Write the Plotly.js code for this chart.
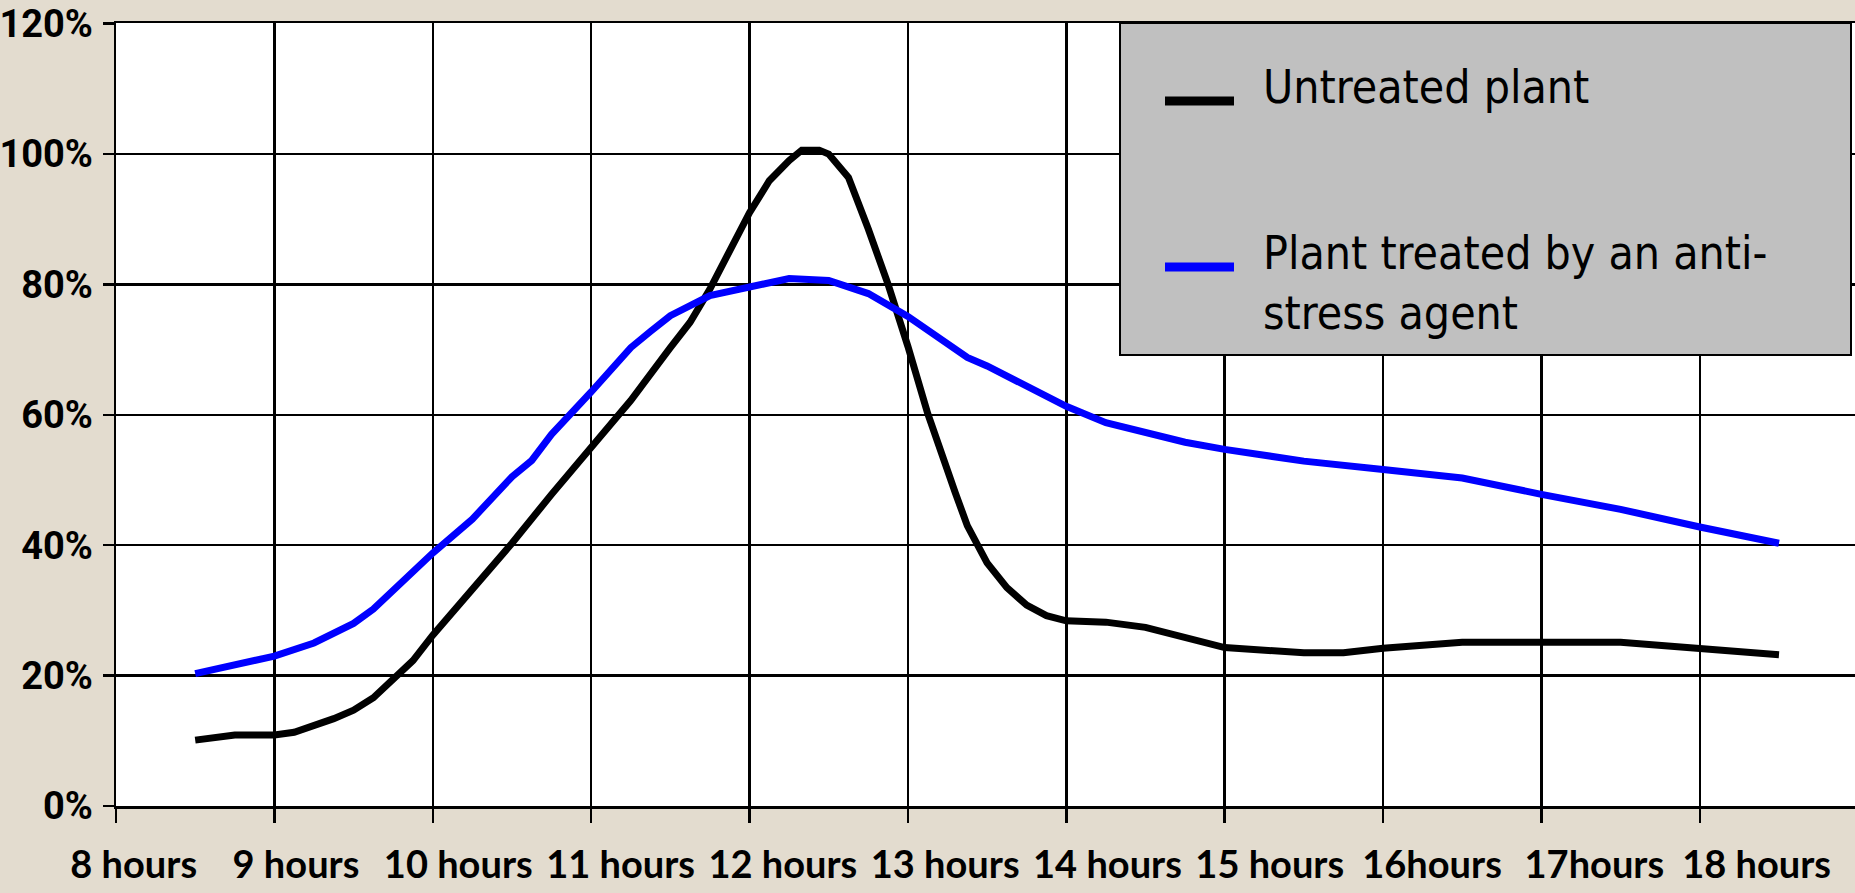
<!DOCTYPE html>
<html>
<head>
<meta charset="utf-8">
<script src="https://cdn.plot.ly/plotly-3.0.1.min.js"></script>
<style>
  html, body { margin: 0; padding: 0; background: #e3dccf; }
  #plot { width: 1855px; height: 893px; }
</style>
</head>
<body>
<div id="plot"></div>
<script>
// readings taken off the chart, time in hours, values in %
const untreatedTime = [8.5, 8.75, 9.0, 9.125, 9.375, 9.5, 9.625, 9.875, 10.0, 10.25, 10.5, 10.75,
  11.0, 11.25, 11.5, 11.625, 11.75, 11.875, 12.0, 12.125, 12.25, 12.33, 12.44, 12.5, 12.625,
  12.75, 12.875, 13.0, 13.125, 13.3, 13.375, 13.5, 13.625, 13.75, 13.875, 14.0, 14.125, 14.25,
  14.5, 15.0, 15.5, 15.75, 16.0, 16.5, 17.5, 18.0, 18.5];
const untreatedValue = [10.1, 10.9, 10.9, 11.3, 13.4, 14.7, 16.6, 22.3, 26.2, 33.1, 40.3, 47.8,
  55.0, 62.2, 70.3, 74.2, 79.3, 85.2, 91.0, 95.9, 99.0, 100.6, 100.6, 100.0, 96.4,
  88.5, 80.0, 70.5, 60.2, 48.0, 43.0, 37.3, 33.5, 30.8, 29.2, 28.4, 28.2, 28.2,
  27.4, 24.3, 23.5, 23.5, 24.2, 25.1, 25.1, 24.1, 23.2];

const treatedTime = [8.5, 9.0, 9.25, 9.5, 9.625, 9.75, 10.0, 10.25, 10.5, 10.625, 10.75, 11.0,
  11.25, 11.375, 11.5, 11.75, 12.0, 12.25, 12.5, 12.75, 13.0, 13.375, 13.5, 14.0, 14.25, 14.5,
  14.75, 15.0, 15.5, 16.0, 16.5, 17.0, 17.5, 18.0, 18.5];
const treatedValue = [20.3, 23.0, 25.0, 28.0, 30.2, 33.0, 38.8, 44.0, 50.5, 53.0, 57.0, 63.5,
  70.3, 72.8, 75.2, 78.3, 79.6, 80.9, 80.6, 78.6, 75.1, 68.8, 67.5, 61.3, 58.8, 57.2,
  55.8, 54.7, 52.9, 51.6, 50.3, 47.8, 45.5, 42.8, 40.3];

const seriesNames = ['Untreated plant', 'Plant treated by an anti-<br>stress agent'];
const seriesColors = ['#000000', '#0000ff'];

const hourTicks = [8, 9, 10, 11, 12, 13, 14, 15, 16, 17, 18];
const hourLabels = ['8 hours', '9 hours', '10 hours', '11 hours', '12 hours', '13 hours',
  '14 hours', '15 hours', '16hours', '17hours', '18 hours'];
const percentTicks = [0, 20, 40, 60, 80, 100, 120];
const percentLabels = ['0%', '20%', '40%', '60%', '80%', '100%', '120%'];

// plot box in pixels
const W = 1855, H = 893;
const L = 116, R = 0, T = 23, B = 87;
const px = x => (x - L) / (W - L - R);
const py = y => (H - B - y) / (H - B - T);

const trace1 = {
  x: untreatedTime,
  y: untreatedValue,
  mode: 'lines',
  type: 'scatter',
  name: seriesNames[0],
  line: { color: seriesColors[0], width: 7 }
};

const trace2 = {
  x: treatedTime,
  y: treatedValue,
  mode: 'lines',
  type: 'scatter',
  name: seriesNames[1],
  line: { color: seriesColors[1], width: 7 }
};

// empty trace so the label axis gets drawn
const labelHolder = {
  x: hourTicks,
  y: hourTicks.map(() => null),
  xaxis: 'x2',
  mode: 'lines',
  type: 'scatter',
  hoverinfo: 'skip',
  showlegend: false
};

// legend box drawn by hand, Excel style
const legendShapes = [
  { type: 'rect', xref: 'paper', yref: 'paper', x0: px(1120), x1: px(1851), y0: py(T), y1: py(355),
    fillcolor: '#c0c0c0', line: { color: '#000', width: 2 }, layer: 'above' },
  { type: 'line', xref: 'paper', yref: 'paper', x0: px(1165), x1: px(1234), y0: py(101), y1: py(101),
    line: { color: seriesColors[0], width: 9 }, layer: 'above' },
  { type: 'line', xref: 'paper', yref: 'paper', x0: px(1165), x1: px(1234), y0: py(267), y1: py(267),
    line: { color: seriesColors[1], width: 9 }, layer: 'above' }
];
const legendFont = { family: '"DejaVu Sans Condensed", "DejaVu Sans", sans-serif', size: 46, color: '#000' };
const legendText = [
  { xref: 'paper', yref: 'paper', x: px(1261), y: py(87), xanchor: 'left', yanchor: 'middle',
    text: seriesNames[0], showarrow: false, align: 'left', font: legendFont },
  { xref: 'paper', yref: 'paper', x: px(1261), y: py(283), xanchor: 'left', yanchor: 'middle',
    text: seriesNames[1], showarrow: false, align: 'left', font: legendFont }
];

const layout = {
  width: W,
  height: H,
  margin: { l: L, r: R, t: T, b: B },
  paper_bgcolor: '#e3dccf',
  plot_bgcolor: '#ffffff',
  showlegend: false,
  xaxis: {
    range: [8, 18.98],
    tickmode: 'array',
    tickvals: hourTicks,
    showticklabels: false,
    showgrid: true, gridcolor: '#000', gridwidth: 2.5,
    zeroline: false,
    showline: true, mirror: true, linecolor: '#000', linewidth: 2.5,
    ticks: 'outside', ticklen: 14, tickwidth: 2.5, tickcolor: '#000'
  },
  // separate axis carrying the hour labels (they sit a bit right of the grid in the original)
  xaxis2: {
    overlaying: 'x', anchor: 'y', side: 'bottom',
    range: [7.891, 18.606],
    tickmode: 'array',
    tickvals: hourTicks,
    ticktext: hourLabels,
    showgrid: false, zeroline: false, showline: false,
    ticks: '', ticklabelstandoff: 33,
    tickfont: { family: 'Lato, "Open Sans", sans-serif', size: 38, color: '#000', weight: 'bold' }
  },
  yaxis: {
    range: [0, 120.1],
    tickmode: 'array',
    tickvals: percentTicks,
    ticktext: percentLabels,
    ticklabeloverflow: 'allow',
    showgrid: true, gridcolor: '#000', gridwidth: 2.5,
    zeroline: false,
    showline: true, linecolor: '#000', linewidth: 2.5,
    ticks: 'outside', ticklen: 11, tickwidth: 2.5, tickcolor: '#000',
    ticklabelstandoff: 2,
    tickfont: { family: 'Roboto, "Liberation Sans", sans-serif', size: 38, color: '#000', weight: 'bold' }
  },
  shapes: legendShapes,
  annotations: legendText
};

Plotly.newPlot('plot', [trace1, trace2, labelHolder], layout, { staticPlot: true });
</script>
</body>
</html>
